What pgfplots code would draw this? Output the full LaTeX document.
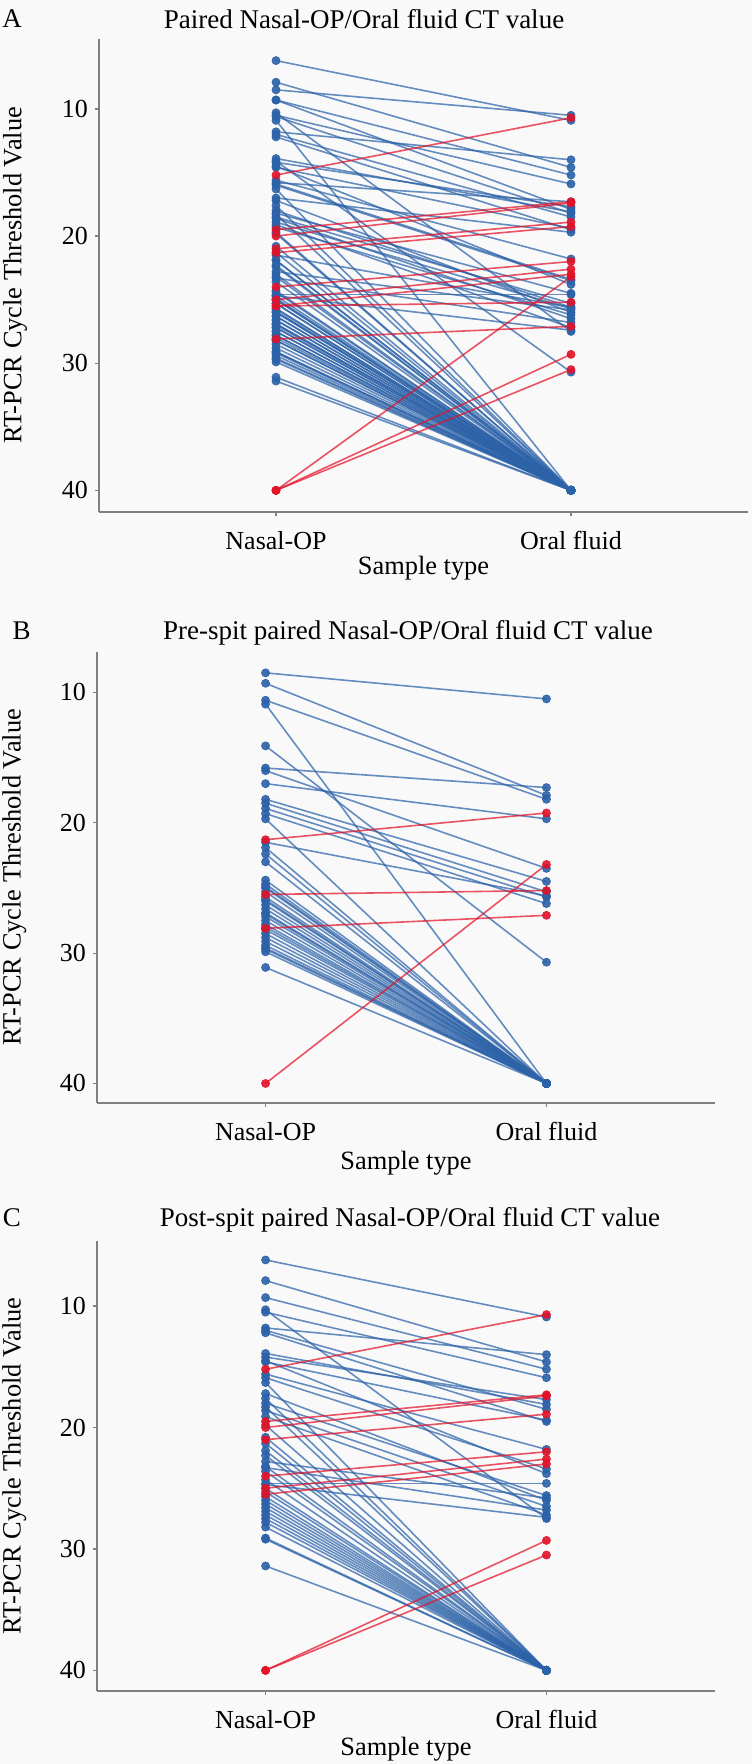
\documentclass[border=0pt]{standalone}
\usepackage{fontspec}
\setmainfont{Liberation Serif}
\usepackage{xcolor}
\usepackage{pgfplots}
\usepackage{pgfplotstable}
\pgfplotsset{compat=1.18}

\definecolor{ptblue}{RGB}{44,98,168}
\definecolor{ptred}{RGB}{226,18,40}
\definecolor{bgcol}{RGB}{249,249,250}
\definecolor{axgray}{RGB}{128,128,128}
\pagecolor{bgcol}

% pre-spit pairs: n = Nasal-OP CT, o = Oral fluid CT
\pgfplotstableread{
n o
8.5 10.5
9.3 17.9
10.6 18.2
10.9 40
14.1 30.7
15.8 17.3
16.0 23.5
17.0 19.7
18.2 24.5
18.5 25.3
18.9 25.7
19.3 26.2
19.7 40
21.5 25.6
21.9 40
22.4 40
23.0 40
24.4 40
24.7 40
24.9 40
25.0 40
25.3 40
25.7 40
25.9 40
26.0 40
26.3 40
26.6 40
26.9 40
27.0 40
27.2 40
27.5 40
27.8 40
28.0 40
28.2 40
28.5 40
28.8 40
29.1 40
29.4 40
29.6 40
29.7 40
29.9 40
31.1 40
}\preblue
\pgfplotstableread{
n o
21.3 19.25
25.5 25.2
28.1 27.1
40 23.2
}\prered

% post-spit pairs
\pgfplotstableread{
n o
6.2 10.9
7.9 14.6
9.3 15.2
10.3 27.5
10.5 15.9
11.8 14.0
12.0 18.5
12.2 19.5
13.9 18.1
14.2 17.7
14.5 23.8
14.6 19.4
15.6 21.8
15.9 23.4
16.3 40
17.2 26.0
17.6 40
18.0 25.6
18.3 40
18.6 26.5
19.1 27.2
19.8 40
20.8 40
21.3 40
21.9 40
22.3 40
22.8 25.8
23.2 40
23.3 26.8
23.6 40
24.3 40
24.6 24.6
24.7 27.4
25.0 40
25.3 40
25.7 40
26.0 40
26.3 40
26.6 40
26.9 40
27.2 40
27.5 40
27.8 40
28.2 40
29.1 40
29.2 40
31.4 40
}\postblue
\pgfplotstableread{
n o
15.2 10.7
19.5 17.3
20.0 17.4
21.0 18.9
24.0 22.0
25.0 22.6
25.5 23.0
40 29.3
40 30.5
}\postred

\newcommand{\lblfont}{\fontsize{13.2}{15}\selectfont}
\pgfplotsset{
  ctpanel/.style={
    scale only axis, anchor=south west, clip=false,
    xmin=0.4, xmax=2.6, y dir=reverse,
    axis x line*=bottom, axis y line*=left,
    axis line style={axgray, line width=0.8pt},
    xtick={1,2}, xticklabels={Nasal-OP,Oral fluid},
    ytick={10,20,30,40},
    tick style={axgray, line width=0.6pt}, tick align=outside,
    major tick length=2pt,
    /pgf/number format/assume math mode=true,
    tick label style={font=\fontsize{13}{15}\selectfont},
    xticklabel style={yshift=-4pt},
    xlabel={Sample type},
    ylabel={RT-PCR Cycle Threshold Value},
  },
  ylab/.style={every axis y label/.style={at={(axis description cs:#1,0.5)},
    rotate=90, anchor=center, font=\lblfont}},
  xlab/.style={every axis x label/.style={at={(axis description cs:0.5,0)},
    anchor=center, yshift=#1, font=\lblfont}},
  seg/.style={#1, opacity=0.72, line width=0.8pt, mark=none,
    quiver={u=1, v=\thisrow{o}-\thisrow{n}}},
  dots/.style={only marks, mark=*, mark size=2pt, #1,
    mark options={draw=#1, fill=#1, opacity=0.9}},
}

\begin{document}
\begin{tikzpicture}
\useasboundingbox (0pt,0pt) rectangle (376pt,-882pt);
\tikzset{ttl/.style={font=\fontsize{13.5}{16}\selectfont}}

% panel A
\node[ttl] at (6pt,-9.5pt) {A};
\node[ttl] at (182pt,-9.8pt) {Paired Nasal-OP/Oral fluid CT value};
\begin{axis}[ctpanel, at={(49.5pt,-256pt)}, width=324.5pt, height=236.5pt,
  ymin=4.5, ymax=41.7, ylab=-0.1294, xlab=-28pt]
\addplot[seg=ptblue] table[x expr=1, y=n] \preblue;
\addplot[seg=ptblue] table[x expr=1, y=n] \postblue;
\addplot[dots=ptblue] table[x expr=1, y=n] \preblue;
\addplot[dots=ptblue] table[x expr=2, y=o] \preblue;
\addplot[dots=ptblue] table[x expr=1, y=n] \postblue;
\addplot[dots=ptblue] table[x expr=2, y=o] \postblue;
\addplot[seg=ptred] table[x expr=1, y=n] \prered;
\addplot[seg=ptred] table[x expr=1, y=n] \postred;
\addplot[dots=ptred] table[x expr=1, y=n] \prered;
\addplot[dots=ptred] table[x expr=2, y=o] \prered;
\addplot[dots=ptred] table[x expr=1, y=n] \postred;
\addplot[dots=ptred] table[x expr=2, y=o] \postred;
\end{axis}

% panel B
\node[ttl] at (10.8pt,-315.5pt) {B};
\node[ttl] at (204pt,-316.3pt) {Pre-spit paired Nasal-OP/Oral fluid CT value};
\begin{axis}[ctpanel, at={(48.5pt,-551.5pt)}, width=309pt, height=225.5pt,
  ymin=6.9, ymax=41.5, ylab=-0.1337, xlab=-30pt]
\addplot[seg=ptblue] table[x expr=1, y=n] \preblue;
\addplot[dots=ptblue] table[x expr=1, y=n] \preblue;
\addplot[dots=ptblue] table[x expr=2, y=o] \preblue;
\addplot[seg=ptred] table[x expr=1, y=n] \prered;
\addplot[dots=ptred] table[x expr=1, y=n] \prered;
\addplot[dots=ptred] table[x expr=2, y=o] \prered;
\end{axis}

% panel C
\node[ttl] at (6pt,-609pt) {C};
\node[ttl] at (205pt,-609.8pt) {Post-spit paired Nasal-OP/Oral fluid CT value};
\begin{axis}[ctpanel, at={(48.5pt,-845.5pt)}, width=309pt, height=225pt,
  ymin=4.64, ymax=41.7, ylab=-0.1337, xlab=-29pt]
\addplot[seg=ptblue] table[x expr=1, y=n] \postblue;
\addplot[dots=ptblue] table[x expr=1, y=n] \postblue;
\addplot[dots=ptblue] table[x expr=2, y=o] \postblue;
\addplot[seg=ptred] table[x expr=1, y=n] \postred;
\addplot[dots=ptred] table[x expr=1, y=n] \postred;
\addplot[dots=ptred] table[x expr=2, y=o] \postred;
\end{axis}
\end{tikzpicture}
\end{document}
